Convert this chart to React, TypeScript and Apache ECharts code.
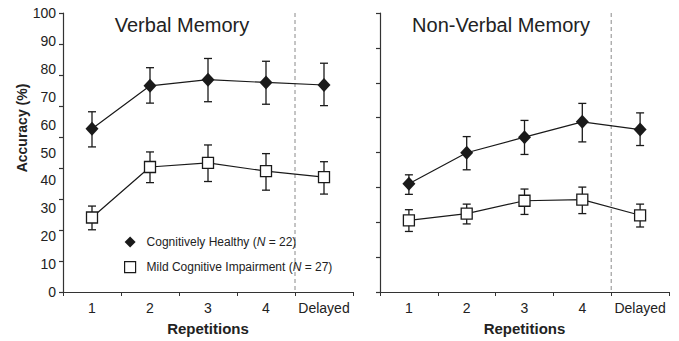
import React, { useEffect, useRef } from "react";
import * as echarts from "echarts";

const CATEGORIES = ["1", "2", "3", "4", "Delayed"];
const HEALTHY = "Cognitively Healthy (N = 22)";
const MCI = "Mild Cognitive Impairment (N = 27)";

// Verbal memory
const VERBAL_HEALTHY = [58.5, 73.9, 76.1, 75.1, 74.2];
const VERBAL_HEALTHY_LOW = [52.0, 67.7, 68.2, 67.3, 66.8];
const VERBAL_HEALTHY_HIGH = [64.6, 80.4, 83.7, 82.7, 82.0];
const VERBAL_MCI = [26.7, 44.8, 46.3, 43.3, 41.2];
const VERBAL_MCI_LOW = [22.3, 39.2, 39.6, 36.5, 35.1];
const VERBAL_MCI_HIGH = [30.8, 50.2, 52.7, 49.6, 46.7];

// Non-verbal memory
const NONVERBAL_HEALTHY = [38.8, 49.9, 55.5, 61.0, 58.2];
const NONVERBAL_HEALTHY_LOW = [35.0, 43.8, 49.3, 53.8, 52.5];
const NONVERBAL_HEALTHY_HIGH = [42.0, 55.7, 61.5, 67.6, 64.2];
const NONVERBAL_MCI = [25.7, 28.1, 32.7, 33.1, 27.5];
const NONVERBAL_MCI_LOW = [21.7, 24.4, 27.8, 28.1, 23.3];
const NONVERBAL_MCI_HIGH = [29.5, 31.5, 36.9, 37.6, 31.5];

const Y_MIN = 0;
const Y_MAX = 100;
const Y_INTERVAL = 10;
// the printed tick marks do not follow the labels: left panel shows 9 tick gaps, right panel 8
const LEFT_TICK_MAX = 90;
const RIGHT_TICK_MAX = 80;
const DIVIDER_AFTER_INDEX = 3;

const FONT = "'Liberation Sans', Arial, sans-serif";
const INK = "#1a1a1a";
const AXIS = "#333";

function errorBarRender(params: any, api: any) {
  const x = api.value(0);
  const pLo = api.coord([x, api.value(1)]);
  const pHi = api.coord([x, api.value(2)]);
  const cap = 4;
  const style = { stroke: INK, lineWidth: 1.3 };
  return {
    type: "group",
    children: [
      { type: "line", shape: { x1: pLo[0], y1: pLo[1], x2: pHi[0], y2: pHi[1] }, style },
      { type: "line", shape: { x1: pLo[0] - cap, y1: pLo[1], x2: pLo[0] + cap, y2: pLo[1] }, style },
      { type: "line", shape: { x1: pHi[0] - cap, y1: pHi[1], x2: pHi[0] + cap, y2: pHi[1] }, style },
    ],
  };
}

function dividerRender(params: any, api: any) {
  const idx = api.value(0);
  const bottom = api.coord([idx, api.value(1)]);
  const top = api.coord([idx, api.value(2)]);
  const w = api.size([1, 0])[0];
  const x = bottom[0] + w / 2;
  return {
    type: "line",
    shape: { x1: x, y1: top[1], x2: x, y2: bottom[1] },
    style: { stroke: "#8a8a8a", lineWidth: 1, lineDash: [4, 3] },
  };
}

function bars(low: number[], high: number[]) {
  return CATEGORIES.map((_, i) => [i, low[i], high[i]]);
}

function panelSeries(
  xIdx: number,
  yIdx: number,
  healthy: number[],
  hLow: number[],
  hHigh: number[],
  mci: number[],
  mLow: number[],
  mHigh: number[]
) {
  return [
    {
      type: "custom",
      xAxisIndex: xIdx,
      yAxisIndex: yIdx,
      renderItem: dividerRender,
      data: [[DIVIDER_AFTER_INDEX, Y_MIN, Y_MAX]],
      silent: true,
      z: 1,
    },
    {
      type: "custom",
      xAxisIndex: xIdx,
      yAxisIndex: yIdx,
      renderItem: errorBarRender,
      data: bars(hLow, hHigh),
      z: 2,
    },
    {
      type: "custom",
      xAxisIndex: xIdx,
      yAxisIndex: yIdx,
      renderItem: errorBarRender,
      data: bars(mLow, mHigh),
      z: 2,
    },
    {
      name: HEALTHY,
      type: "line",
      xAxisIndex: xIdx,
      yAxisIndex: yIdx,
      data: healthy,
      symbol: "diamond",
      symbolSize: [13, 14],
      lineStyle: { color: INK, width: 1.2 },
      itemStyle: { color: INK, borderColor: INK, borderWidth: 0 },
      z: 3,
    },
    {
      name: MCI,
      type: "line",
      xAxisIndex: xIdx,
      yAxisIndex: yIdx,
      data: mci,
      symbol: "rect",
      symbolSize: 11,
      lineStyle: { color: INK, width: 1.2 },
      itemStyle: { color: "#ffffff", borderColor: INK, borderWidth: 1.3 },
      z: 3,
    },
  ];
}

function xAxis(gridIndex: number) {
  return {
    type: "category",
    gridIndex,
    data: CATEGORIES,
    boundaryGap: true,
    name: "Repetitions",
    nameLocation: "middle",
    nameGap: 29,
    nameTextStyle: { fontFamily: FONT, fontSize: 15, fontWeight: "bold", color: "#222" },
    axisLine: { lineStyle: { color: AXIS, width: 1.2 } },
    axisTick: { show: true, alignWithLabel: false, interval: 0, length: 4, lineStyle: { color: AXIS } },
    axisLabel: { interval: 0, fontFamily: FONT, fontSize: 14, color: "#222", margin: 9 },
    splitLine: { show: false },
  };
}

function labelAxis(gridIndex: number, showLabels: boolean) {
  return {
    type: "value",
    gridIndex,
    min: Y_MIN,
    max: Y_MAX,
    interval: Y_INTERVAL,
    axisLine: { show: true, lineStyle: { color: AXIS, width: 1.2 } },
    axisTick: { show: false },
    axisLabel: { show: showLabels, fontFamily: FONT, fontSize: 14, color: "#222", margin: 7 },
    splitLine: { show: false },
  };
}

function tickAxis(gridIndex: number, max: number) {
  return {
    type: "value",
    gridIndex,
    position: "left",
    min: Y_MIN,
    max,
    interval: Y_INTERVAL,
    axisLine: { show: false },
    axisTick: { show: true, length: 4, lineStyle: { color: AXIS, width: 1.2 } },
    axisLabel: { show: false },
    splitLine: { show: false },
  };
}

export default function App() {
  const ref = useRef<HTMLDivElement>(null);
  useEffect(() => {
    if (!ref.current) return;
    const chart = echarts.init(ref.current, null, { renderer: "svg" });
    const option: any = {
      animation: false,
      backgroundColor: "#ffffff",
      textStyle: { fontFamily: FONT },
      title: [
        {
          text: "Verbal Memory",
          left: 177,
          top: 10,
          textAlign: "center",
          textStyle: { fontFamily: FONT, fontSize: 20, fontWeight: "normal", color: "#222" },
        },
        {
          text: "Non-Verbal Memory",
          left: 496,
          top: 10,
          textAlign: "center",
          textStyle: { fontFamily: FONT, fontSize: 20, fontWeight: "normal", color: "#222" },
        },
      ],
      graphic: [
        {
          type: "text",
          x: 22,
          y: 128,
          rotation: Math.PI / 2,
          style: {
            text: "Accuracy (%)",
            fontFamily: FONT,
            fontSize: 14,
            fontWeight: "bold",
            fill: "#222",
            align: "center",
            verticalAlign: "middle",
          },
        },
      ],
      legend: {
        orient: "vertical",
        left: 119,
        top: 231,
        itemWidth: 11,
        itemHeight: 11,
        itemGap: 13,
        selectedMode: false,
        formatter: (name: string) => name.replace("(N", "({i|N}"),
        textStyle: {
          fontFamily: FONT,
          fontSize: 12,
          color: "#222",
          padding: [0, 0, 0, 6],
          rich: { i: { fontStyle: "italic", fontFamily: FONT, fontSize: 12, color: "#222" } },
        },
        data: [
          { name: HEALTHY, icon: "diamond", itemStyle: { color: INK, borderWidth: 0 } },
          { name: MCI, icon: "rect", itemStyle: { color: "#ffffff", borderColor: INK, borderWidth: 1.2 } },
        ],
      },
      grid: [
        { left: 63, top: 13, width: 290, height: 280 },
        { left: 380, top: 13, width: 289, height: 280 },
      ],
      xAxis: [xAxis(0), xAxis(1)],
      yAxis: [labelAxis(0, true), tickAxis(0, LEFT_TICK_MAX), labelAxis(1, false), tickAxis(1, RIGHT_TICK_MAX)],
      series: [
        ...panelSeries(
          0,
          0,
          VERBAL_HEALTHY,
          VERBAL_HEALTHY_LOW,
          VERBAL_HEALTHY_HIGH,
          VERBAL_MCI,
          VERBAL_MCI_LOW,
          VERBAL_MCI_HIGH
        ),
        ...panelSeries(
          1,
          2,
          NONVERBAL_HEALTHY,
          NONVERBAL_HEALTHY_LOW,
          NONVERBAL_HEALTHY_HIGH,
          NONVERBAL_MCI,
          NONVERBAL_MCI_LOW,
          NONVERBAL_MCI_HIGH
        ),
      ],
    };
    chart.setOption(option);
    return () => chart.dispose();
  }, []);
  return (
    <div
      ref={ref}
      style={{ position: "absolute", left: 0, top: 0, width: 679, height: 341, background: "#fff" }}
    />
  );
}
